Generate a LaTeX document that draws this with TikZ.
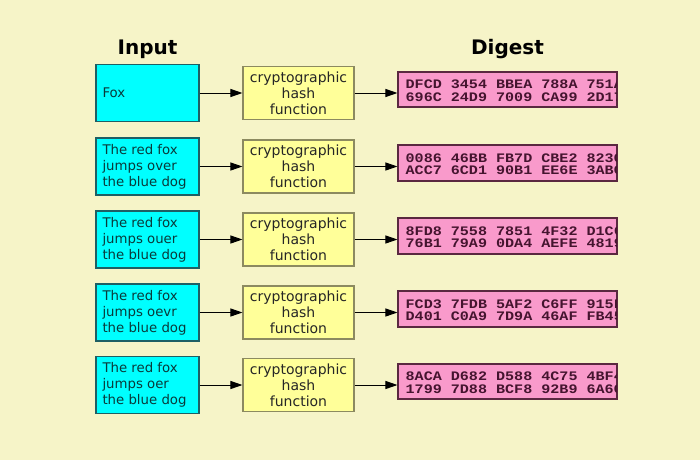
\documentclass[tikz,border=0pt]{standalone}
\usepackage{fontspec}
\setmainfont{DejaVu Sans}
\newfontfamily\digfont{Liberation Mono}
\usetikzlibrary{arrows.meta}
\definecolor{bgc}{HTML}{F6F4C8}
\definecolor{cyanfill}{HTML}{00FFFF}
\definecolor{cyanborder}{HTML}{1E5F64}
\definecolor{cyantext}{HTML}{0A3A3A}
\definecolor{yelfill}{HTML}{FFFF99}
\definecolor{yelborder}{HTML}{8C8A60}
\definecolor{pinkfill}{HTML}{F99ACB}
\definecolor{pinkborder}{HTML}{5A2840}
\definecolor{digtextc}{HTML}{45142F}
\tikzset{
  inbox/.style={draw=cyanborder, fill=cyanfill, line width=1.1pt, minimum width=103pt, minimum height=57pt,
    text width=90pt, inner xsep=6.5pt, align=flush left, text=cyantext,
    font=\fontsize{13.3}{16}\selectfont},
  hashbox/.style={draw=yelborder, fill=yelfill, line width=1.1pt, minimum width=111pt, minimum height=53pt,
    align=center, text=black!85, font=\fontsize{14}{16}\selectfont, inner sep=0pt},
  digbox/.style={draw=pinkborder, fill=pinkfill, line width=1.1pt, minimum width=219pt, minimum height=35pt, inner sep=0pt},
  digtext/.style={text=digtextc, font=\digfont\bfseries\fontsize{13}{12.5}\selectfont, align=left, inner sep=0pt, anchor=west},
  head/.style={font=\bfseries\fontsize{20}{24}\selectfont, text=black},
  conn/.style={line width=1pt, draw=black, -{Triangle[length=12pt,width=8pt]}},
}
\newcommand\dline[1]{\scalebox{1.16}[1]{#1}}
\begin{document}
\begin{tikzpicture}[x=1pt,y=-1pt]
\fill[bgc] (0,0) rectangle (700,460);
\useasboundingbox (0,0) rectangle (700,460);

\node[head] (hin) at (147.5,49) {Input};
\node[head] (hdig) at (507.5,49) {Digest};

% rows
\foreach \i/\yc/\txt/\da/\db in {
  1/93/{Fox}/{DFCD 3454 BBEA 788A 751A}/{696C 24D9 7009 CA99 2D17},
  2/166.5/{The red fox\\jumps over\\the blue dog}/{0086 46BB FB7D CBE2 823C}/{ACC7 6CD1 90B1 EE6E 3ABC},
  3/239.5/{The red fox\\jumps ouer\\the blue dog}/{8FD8 7558 7851 4F32 D1C6}/{76B1 79A9 0DA4 AEFE 4819},
  4/312.5/{The red fox\\jumps oevr\\the blue dog}/{FCD3 7FDB 5AF2 C6FF 915F}/{D401 C0A9 7D9A 46AF FB45},
  5/385/{The red fox\\jumps oer\\the blue dog}/{8ACA D682 D588 4C75 4BF4}/{1799 7D88 BCF8 92B9 6A6C}}
{
  \node[inbox] (in\i) at (147.5,\yc) {\txt};
  \node[hashbox] (h\i) at (298.5,\yc) {cryptographic\\hash\\function};
  \node[digbox] (d\i) at (507.5,\yc-3.5) {};
  \begin{scope}
    \clip (d\i.south west) rectangle (d\i.north east);
    \node[digtext] (t\i) at ([xshift=8pt,yshift=-1pt]d\i.west) {\dline{\da}\\\dline{\db}};
  \end{scope}
  \draw[pinkborder, line width=1.1pt] (d\i.south west) rectangle (d\i.north east);
  \draw[conn] (in\i.east) -- (h\i.west);
  \draw[conn] (h\i.east) -- (d\i.west |- h\i.east);
}
\end{tikzpicture}
\end{document}
